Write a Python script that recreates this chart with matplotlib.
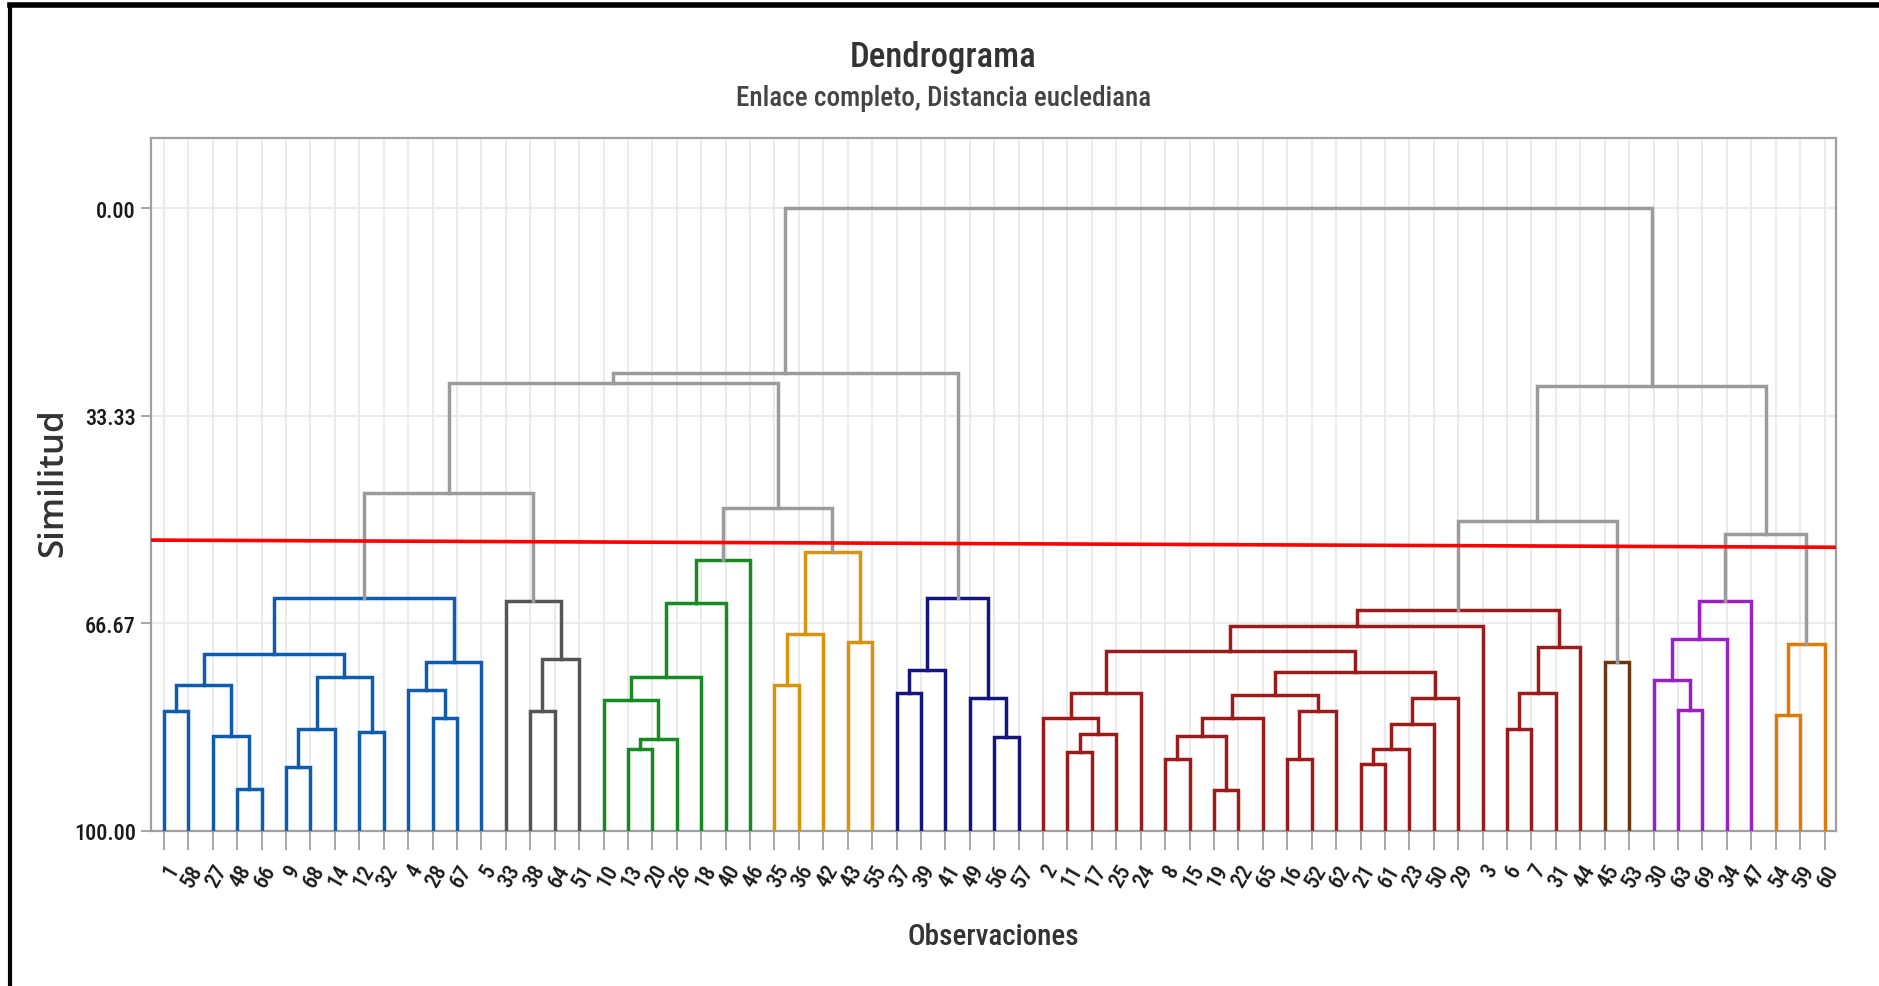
import numpy as np
import matplotlib
matplotlib.use("Agg")
import matplotlib.pyplot as plt
from matplotlib.lines import Line2D

COND = ['Roboto Condensed', 'Fira Sans Condensed', 'PT Sans Narrow', 'Open Sans Condensed',
        'Archivo Narrow', 'DejaVu Sans Condensed', 'DejaVu Sans']
REG = ['Open Sans', 'Noto Sans', 'DejaVu Sans']

# orden de las hojas en el eje x
leaves = [1, 58, 27, 48, 66, 9, 68, 14, 12, 32, 4, 28, 67, 5, 33, 38, 64, 51, 10, 13,
          20, 26, 18, 40, 46, 35, 36, 42, 43, 55, 37, 39, 41, 49, 56, 57, 2, 11, 17, 25,
          24, 8, 15, 19, 22, 65, 16, 52, 62, 21, 61, 23, 50, 29, 3, 6, 7, 31, 44, 45,
          53, 30, 63, 69, 34, 47, 54, 59, 60]

# conglomerados bajo el corte (tamano y color, de izquierda a derecha)
group_sizes = [14, 4, 7, 5, 6, 23, 2, 5, 3]
group_colors = ['#0f5cac', '#555555', '#178a24', '#d8940f', '#15157e',
                '#9b1a1a', '#6b3812', '#9a20c4', '#e0790c']
link_gray = '#9b9b9b'

# uniones: (hoja de un grupo, hoja del otro grupo, similitud)
merges = [
    (1, 58, 80.75), (48, 66, 93.3), (27, 48, 84.8), (1, 27, 76.6),
    (9, 68, 89.75), (9, 14, 83.6), (12, 32, 84.1), (9, 12, 75.3), (1, 9, 71.6),
    (28, 67, 81.9), (4, 28, 77.4), (4, 5, 72.9), (1, 4, 62.65),
    (38, 64, 80.75), (38, 51, 72.45), (33, 38, 63.1),
    (13, 20, 86.8), (13, 26, 85.2), (10, 13, 79.0), (10, 18, 75.3),
    (10, 40, 63.35), (10, 46, 56.5),
    (35, 36, 76.6), (35, 42, 68.4), (43, 55, 69.6), (35, 43, 55.2),
    (37, 39, 77.8), (37, 41, 74.2), (56, 57, 84.9), (49, 56, 78.6), (37, 49, 62.65),
    (11, 17, 87.3), (11, 25, 84.4), (2, 11, 81.8), (2, 24, 77.8),
    (8, 15, 88.5), (19, 22, 93.4), (8, 19, 84.7), (8, 65, 81.8),
    (16, 52, 88.5), (16, 62, 80.75), (8, 16, 78.2),
    (21, 61, 89.3), (21, 23, 86.9), (21, 50, 82.8), (21, 29, 78.6),
    (8, 21, 74.4), (2, 8, 71.1), (2, 3, 67.1),
    (6, 7, 83.6), (6, 31, 77.8), (6, 44, 70.4), (2, 6, 64.6),
    (45, 53, 72.9),
    (63, 69, 80.6), (30, 63, 75.8), (30, 34, 69.1), (30, 47, 63.0),
    (54, 59, 81.4), (54, 60, 70.0),
    (1, 33, 45.7), (10, 35, 48.2), (1, 10, 28.1), (1, 37, 26.4),
    (2, 45, 50.2), (30, 54, 52.3), (2, 30, 28.5),
    (1, 2, 0.0),
]

cut_line = [53.3, 54.45]   # la linea roja va algo inclinada
cut_level = 53.8
yticks = [0.0, 33.33, 66.67, 100.0]
ytick_labels = ['0.00', '33.33', '66.67', '100.00']

leaf_color = {}
k = 0
for n, c in zip(group_sizes, group_colors):
    for lf in leaves[k:k + n]:
        leaf_color[lf] = c
    k += n

fig = plt.figure(figsize=(18.79, 9.87), dpi=100)
ax = fig.add_axes([151 / 1879, 1 - 832 / 987, (1836 - 151) / 1879, (832 - 139) / 987])

# posiciones de cada conglomerado
owner = {lf: lf for lf in leaves}
xpos = {lf: float(i) for i, lf in enumerate(leaves)}
hgt = {lf: 100.0 for lf in leaves}
members = {lf: [lf] for lf in leaves}
for j, (a, b, s) in enumerate(merges):
    ca, cb = owner[a], owner[b]
    col = leaf_color[a] if s > cut_level else link_gray
    ax.plot([xpos[ca], xpos[ca], xpos[cb], xpos[cb]], [hgt[ca], s, s, hgt[cb]],
            color=col, lw=2.5, solid_joinstyle='miter', zorder=3)
    nid = 'c%d' % j
    xpos[nid] = (xpos[ca] + xpos[cb]) / 2
    hgt[nid] = s
    members[nid] = members[ca] + members[cb]
    for lf in members[nid]:
        owner[lf] = nid

ax.plot([-0.53, len(leaves) - 0.53], cut_line, color='#ff0000', lw=2.6, zorder=4)

ax.set_xlim(-0.53, len(leaves) - 0.53)
ax.set_ylim(100, -11.25)
ax.set_xticks(range(len(leaves)))
ax.set_xticklabels([str(v) for v in leaves], rotation=60, ha='right', va='top',
                   rotation_mode='anchor', family=COND, fontsize=16, fontweight='medium',
                   color='#1a1a1a')
ax.set_yticks(yticks)
ax.set_yticklabels(ytick_labels, family=COND, fontsize=16, fontweight='medium', color='#1a1a1a')
ax.tick_params(axis='x', length=14, width=1.3, color='#a0a0a0', pad=7)
ax.tick_params(axis='y', length=7, width=1.3, color='#a0a0a0', pad=4)
ax.grid(True, color='#e8e8e8', lw=1.2, zorder=0)
ax.set_axisbelow(True)
for sp in ax.spines.values():
    sp.set_color('#a0a0a0')
    sp.set_linewidth(1.6)

fig.text(0.502, 1 - 57 / 987, 'Dendrograma', ha='center', va='center',
         family=COND, fontsize=25, fontweight='medium', color='#333333')
fig.text(0.502, 1 - 98 / 987, 'Enlace completo, Distancia euclediana', ha='center', va='center',
         family=COND, fontsize=19.5, fontweight='medium', color='#444444')
fig.text(0.5287, 1 - 937 / 987, 'Observaciones', ha='center', va='center',
         family=COND, fontsize=21, fontweight='medium', color='#333333')
fig.text(0.0282, 1 - 483 / 987, 'Similitud', ha='center', va='center', rotation=90,
         family=REG, fontsize=25, color='#333333', fontweight='semibold')

# marco negro de la captura
fig.add_artist(Line2D([10 / 1879, 1], [1 - 6 / 987, 1 - 6 / 987], color='black', lw=4,
                      transform=fig.transFigure))
fig.add_artist(Line2D([10 / 1879, 10 / 1879], [0, 1 - 6 / 987], color='black', lw=3,
                      transform=fig.transFigure))

fig.savefig('out.png', dpi=100, facecolor='white')
